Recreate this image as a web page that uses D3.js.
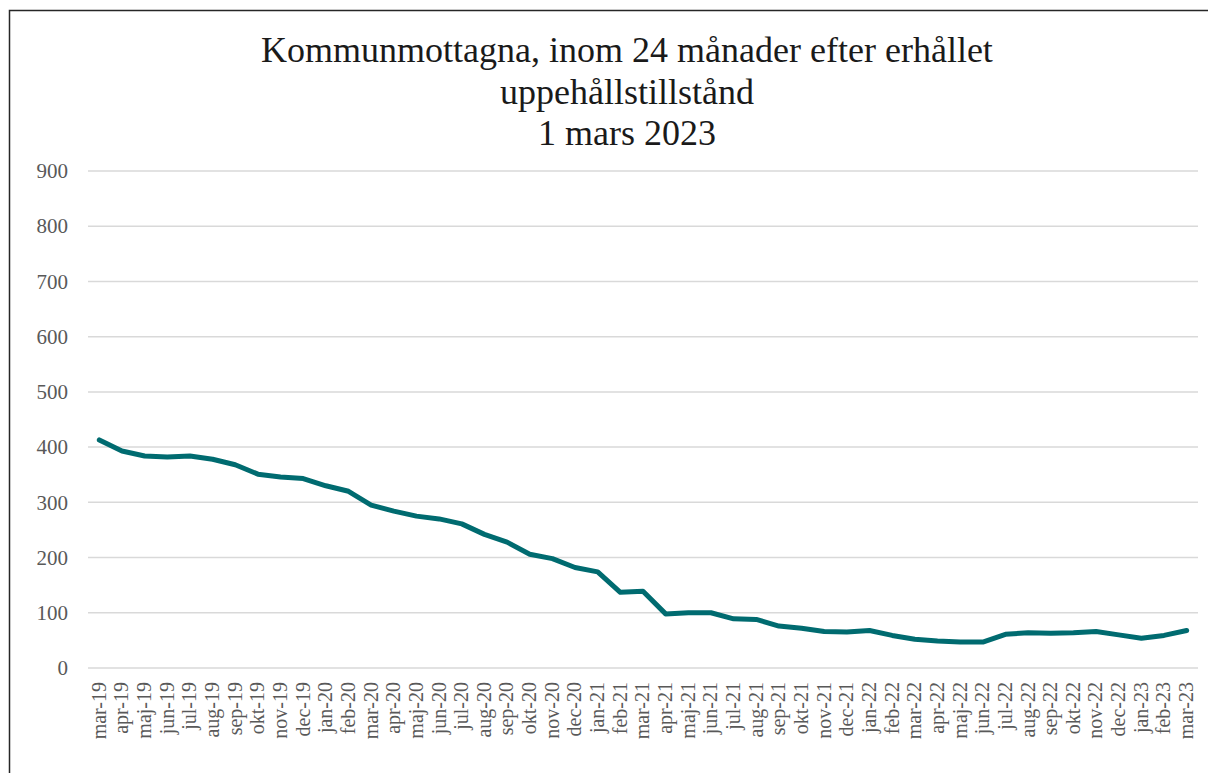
<!DOCTYPE html>
<html>
<head>
<meta charset="utf-8">
<script src="https://cdn.jsdelivr.net/npm/d3@7"></script>
<style>
  body { margin: 0; background: #fff; }
</style>
</head>
<body>
<div id="chart"></div>
<script>
// chart values
var months = ["mar-19","apr-19","maj-19","jun-19","jul-19","aug-19","sep-19","okt-19","nov-19","dec-19",
  "jan-20","feb-20","mar-20","apr-20","maj-20","jun-20","jul-20","aug-20","sep-20","okt-20","nov-20","dec-20",
  "jan-21","feb-21","mar-21","apr-21","maj-21","jun-21","jul-21","aug-21","sep-21","okt-21","nov-21","dec-21",
  "jan-22","feb-22","mar-22","apr-22","maj-22","jun-22","jul-22","aug-22","sep-22","okt-22","nov-22","dec-22",
  "jan-23","feb-23","mar-23"];
var counts = [413, 393, 384, 382, 384, 378, 368, 351, 346, 343,
  330, 320, 295, 284, 275, 270, 261, 242, 228, 206, 198, 182,
  174, 137, 139, 98, 100, 100, 89, 88, 76, 72, 66, 65,
  68, 59, 52, 49, 47, 47, 61, 64, 63, 64, 66, 60,
  54, 59, 68];
var yTicks = [0, 100, 200, 300, 400, 500, 600, 700, 800, 900];
var titleLines = ["Kommunmottagna, inom 24 månader efter erhållet", "uppehållstillstånd", "1 mars 2023"];

var svgWidth = 1208;
var svgHeight = 773;

var margin = { top: 171, right: 10, bottom: 105, left: 88 };
var chartWidth = 1198 - margin.left;
var chartHeight = 668 - margin.top;

var svg = d3.select("#chart")
  .append("svg")
  .attr("width", svgWidth)
  .attr("height", svgHeight)
  .style("font-family", "'Liberation Serif', 'DejaVu Serif', serif");

// outer frame
svg.append("rect")
  .attr("x", 9.5)
  .attr("y", 10.5)
  .attr("width", 1220)
  .attr("height", 800)
  .attr("fill", "none")
  .attr("stroke", "#262626")
  .attr("stroke-width", 1.5);

// title
svg.append("g")
  .selectAll("text")
  .data(titleLines)
  .enter().append("text")
  .attr("x", 627)
  .attr("y", function(d, i) { return 62 + i * 41.5; })
  .attr("text-anchor", "middle")
  .attr("font-size", "36px")
  .attr("fill", "#1a1a1a")
  .text(function(d) { return d; });

var chartGroup = svg.append("g")
  .attr("transform", `translate(${margin.left}, ${margin.top})`);

var x = d3.scaleBand().domain(months).range([0, chartWidth]);
var y = d3.scaleLinear().domain([0, 900]).range([chartHeight, 0]);

// gridlines
chartGroup.append("g")
  .selectAll("line")
  .data(yTicks)
  .enter().append("line")
  .attr("x1", 0)
  .attr("x2", chartWidth)
  .attr("y1", function(d) { return y(d); })
  .attr("y2", function(d) { return y(d); })
  .attr("stroke", "#d9d9d9")
  .attr("stroke-width", 1.5);

// y axis
chartGroup.append("g")
  .call(d3.axisLeft(y).tickValues(yTicks).tickSize(0).tickPadding(20))
  .call(g => g.select(".domain").remove())
  .call(g => g.selectAll("text")
    .attr("font-family", "'Liberation Serif', serif")
    .attr("font-size", "21px")
    .attr("fill", "#595959"));

// x axis
chartGroup.append("g")
  .attr("transform", "translate(0," + chartHeight + ")")
  .call(d3.axisBottom(x).tickSize(0))
  .call(g => g.select(".domain").remove())
  .call(g => g.selectAll("text")
    .attr("font-family", "'Liberation Serif', serif")
    .attr("font-size", "20px")
    .attr("fill", "#595959")
    .attr("text-anchor", "end")
    .attr("x", -14)
    .attr("y", 0)
    .attr("dy", "0.32em")
    .attr("transform", "rotate(-90)"));

// line
var valueline = d3.line()
  .x(function(d, i) { return x(months[i]) + x.bandwidth() / 2; })
  .y(function(d) { return y(d); });

chartGroup.append("path")
  .datum(counts)
  .attr("fill", "none")
  .attr("stroke", "#006b70")
  .attr("stroke-width", 5)
  .attr("stroke-linejoin", "round")
  .attr("stroke-linecap", "round")
  .attr("d", valueline);
</script>
</body>
</html>
